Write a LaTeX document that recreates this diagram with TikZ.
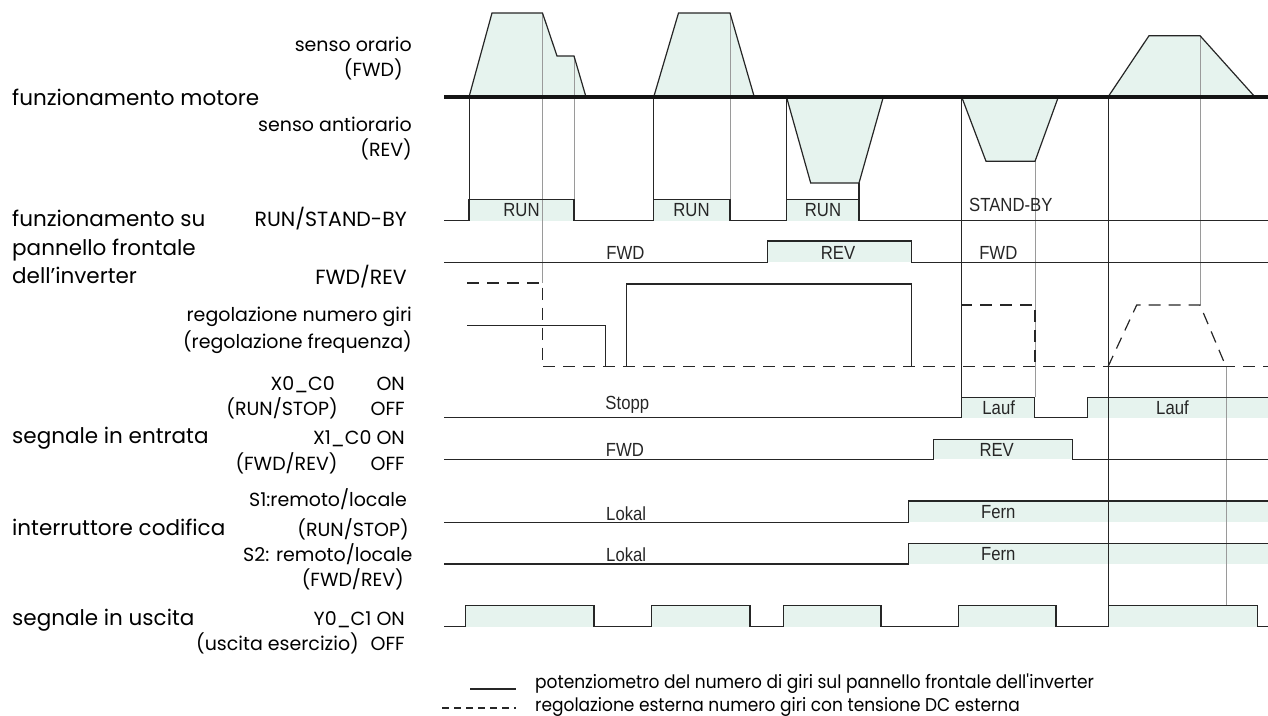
\documentclass[tikz,border=0pt]{standalone}
\usepackage{fontspec}
\setmainfont{Poppins}
\newfontfamily\sigfont[FakeStretch=0.88]{Liberation Sans}
\newfontfamily\legfont[FakeStretch=0.92]{Poppins}
\definecolor{linec}{HTML}{262626}
\definecolor{grayc}{HTML}{9A9A9A}
\definecolor{fillc}{HTML}{E6F3EE}
\tikzset{
  big/.style={font=\fontsize{21.5}{25}\selectfont, inner sep=0pt},
  mid/.style={font=\fontsize{20.5}{24}\selectfont, inner sep=0pt},
  small/.style={font=\fontsize{19}{22}\selectfont, inner sep=0pt},
  sig/.style={font=\sigfont\fontsize{19}{22}\selectfont, inner sep=0pt, text=linec},
  leg/.style={font=\legfont\fontsize{18.5}{21}\selectfont, inner sep=0pt},
  wave/.style={line width=1.2pt, draw=linec, line join=miter},
  guide/.style={line width=0.8pt, draw=linec},
  gguide/.style={line width=1.0pt, draw=grayc},
  dashline/.style={line width=1.2pt, draw=linec, dash pattern=on 12pt off 8pt},
  pulsefill/.style={fill=fillc},
}
\begin{document}
\begin{tikzpicture}[x=1pt,y=-1pt]
\useasboundingbox (0,0) rectangle (1268,715);

% ---------- fills ----------
\fill[pulsefill] (469,97) -- (492,13) -- (542.5,13) -- (557,56) -- (574,56) -- (586,97) -- cycle;
\fill[pulsefill] (653.7,97) -- (678.5,13) -- (730,13) -- (754.3,97) -- cycle;
\fill[pulsefill] (786.5,97) -- (810.7,183) -- (859,183) -- (883.3,97) -- cycle;
\fill[pulsefill] (961.7,97) -- (986,161.3) -- (1035,161.3) -- (1058.3,97) -- cycle;
\fill[pulsefill] (1108,97) -- (1149,35.7) -- (1200,35.7) -- (1255,97) -- cycle;
\fill[pulsefill] (469,199.3) rectangle (574,220.7);
\fill[pulsefill] (653.7,199.3) rectangle (730,220.7);
\fill[pulsefill] (786.5,199.3) rectangle (859,220.7);
\fill[pulsefill] (767.7,241) rectangle (911.7,262.3);
\fill[pulsefill] (961.7,397.3) rectangle (1034.3,417.7);
\fill[pulsefill] (1087.3,397.3) rectangle (1268,417.7);
\fill[pulsefill] (933.3,439.3) rectangle (1072.7,459.3);
\fill[pulsefill] (908.3,501) rectangle (1268,522.3);
\fill[pulsefill] (908.3,543.3) rectangle (1268,564);
\fill[pulsefill] (465.7,605.7) rectangle (594,626.7);
\fill[pulsefill] (651.7,605.7) rectangle (750,626.7);
\fill[pulsefill] (783.3,605.7) rectangle (881,626.7);
\fill[pulsefill] (958.3,605.7) rectangle (1056,626.7);
\fill[pulsefill] (1108.3,605.7) rectangle (1257.3,626.7);

% ---------- guide lines ----------
\draw[guide] (469,97) -- (469,199.3);
\draw[guide] (653.7,97) -- (653.7,199.3);
\draw[guide] (786.5,97) -- (786.5,199.3);
\draw[guide] (961.7,97) -- (961.7,397.3);
\draw[guide] (1108,97) -- (1108,605.7);
\draw[gguide] (542.5,13) -- (542.5,283);
\draw[gguide] (574,56) -- (574,199.3);
\draw[gguide] (730,13) -- (730,199.3);
\draw[gguide] (1035,161.3) -- (1035,397.3);
\draw[gguide] (1200,35.7) -- (1200,305);
\draw[gguide] (1226,366.7) -- (1226,605.7);

% ---------- motor outlines ----------
\draw[wave] (469,97) -- (492,13) -- (542.5,13) -- (557,56) -- (574,56) -- (586,97);
\draw[wave] (653.7,97) -- (678.5,13) -- (730,13) -- (754.3,97);
\draw[wave] (786.5,97) -- (810.7,183) -- (859,183) -- (883.3,97);
\draw[wave] (961.7,97) -- (986,161.3) -- (1035,161.3) -- (1058.3,97);
\draw[wave] (1108,97) -- (1149,35.7) -- (1200,35.7) -- (1255,97);
\draw[line width=4pt, draw=black!92] (444,97) -- (1268,97);

% ---------- signal waves ----------
\draw[wave] (444,220.7) -- (469,220.7) -- (469,199.3) -- (574,199.3) -- (574,220.7)
  -- (653.7,220.7) -- (653.7,199.3) -- (730,199.3) -- (730,220.7)
  -- (786.5,220.7) -- (786.5,199.3) -- (859,199.3) -- (859,220.7) -- (1268,220.7);
\draw[wave] (859,199.3) -- (859,183);
\draw[wave] (444,262.3) -- (767.7,262.3) -- (767.7,241) -- (911.7,241) -- (911.7,262.3) -- (1268,262.3);
\draw[wave] (467,325.7) -- (605.7,325.7) -- (605.7,366.7);
\draw[wave] (626.7,366.7) -- (626.7,284) -- (911.7,284) -- (911.7,366.7);
\draw[wave] (1108,366.7) -- (1226,366.7);
\draw[dashline] (467,283) -- (542.5,283) -- (542.5,366.7) -- (1268,366.7);
\draw[dashline] (961.7,366.7) -- (961.7,305) -- (1035,305) -- (1035,366.7);
\draw[dashline] (1108,366.7) -- (1136.7,305) -- (1200,305) -- (1226,366.7);
\draw[wave] (444,417.7) -- (961.7,417.7) -- (961.7,397.3) -- (1034.3,397.3) -- (1034.3,417.7)
  -- (1087.3,417.7) -- (1087.3,397.3) -- (1268,397.3);
\draw[wave] (444,459.3) -- (933.3,459.3) -- (933.3,439.3) -- (1072.7,439.3) -- (1072.7,459.3) -- (1268,459.3);
\draw[wave] (444,522.3) -- (908.3,522.3) -- (908.3,501) -- (1268,501);
\draw[wave] (444,564) -- (908.3,564) -- (908.3,543.3) -- (1268,543.3);
\draw[wave] (444,626.7) -- (465.7,626.7) -- (465.7,605.7) -- (594,605.7) -- (594,626.7)
  -- (651.7,626.7) -- (651.7,605.7) -- (750,605.7) -- (750,626.7)
  -- (783.3,626.7) -- (783.3,605.7) -- (881,605.7) -- (881,626.7)
  -- (958.3,626.7) -- (958.3,605.7) -- (1056,605.7) -- (1056,626.7)
  -- (1108.3,626.7) -- (1108.3,605.7) -- (1257.3,605.7) -- (1257.3,626.7) -- (1268,626.7);

% ---------- signal labels ----------
\node[sig, anchor=base] (srun1) at (521.5,216.7) {RUN};
\node[sig, anchor=base] (srun2) at (691.5,216.7) {RUN};
\node[sig, anchor=base] (srun3) at (823,216.7) {RUN};
\node[sig, anchor=base] (sstby) at (1010.8,211) {STAND-BY};
\node[sig, anchor=base] (sfwd1) at (625.5,259) {FWD};
\node[sig, anchor=base] (srev1) at (838,259) {REV};
\node[sig, anchor=base] (sfwd2) at (998.3,259) {FWD};
\node[sig, anchor=base] (sstopp) at (627.3,409.3) {Stopp};
\node[sig, anchor=base] (slauf1) at (998.7,414.3) {Lauf};
\node[sig, anchor=base] (slauf2) at (1172.5,414.3) {Lauf};
\node[sig, anchor=base] (sfwd3) at (625,456.7) {FWD};
\node[sig, anchor=base] (srev2) at (996.7,456.7) {REV};
\node[sig, anchor=base] (slok1) at (626.2,520) {Lokal};
\node[sig, anchor=base] (sfern1) at (998.3,518.3) {Fern};
\node[sig, anchor=base] (slok2) at (626.2,561.7) {Lokal};
\node[sig, anchor=base] (sfern2) at (998.3,560.7) {Fern};

% ---------- left labels ----------
\node[small, anchor=base east] (lorario) at (412,51.7) {senso orario};
\node[small, anchor=base east] (lfwdp) at (403,76) {(FWD)};
\node[big, anchor=base west] (lmotor) at (12,105) {funzionamento motore};
\node[small, anchor=base east] (lanti) at (412,131.7) {senso antiorario};
\node[small, anchor=base east] (lrevp) at (412,156.7) {(REV)};
\node[big, anchor=base west] (lpan1) at (12,226.7) {funzionamento su};
\node[big, anchor=base west] (lpan2) at (12,255) {pannello frontale};
\node[big, anchor=base west] (lpan3) at (12,283.3) {dell’inverter};
\node[mid, anchor=base east] (lrunsb) at (407,226.7) {RUN/STAND-BY};
\node[mid, anchor=base east] (lfwdrev) at (407,284) {FWD/REV};
\node[small, anchor=base east] (lreg1) at (412,321.7) {regolazione numero giri};
\node[small, anchor=base east] (lreg2) at (412,348.3) {(regolazione frequenza)};
\node[small, anchor=base east] (lx0) at (335,390) {X0\_C0};
\node[small, anchor=base east] (lx0on) at (405,390) {ON};
\node[small, anchor=base east] (lx0p) at (338,415) {(RUN/STOP)};
\node[small, anchor=base east] (lx0off) at (405,415) {OFF};
\node[big, anchor=base west] (lin) at (12,443.3) {segnale in entrata};
\node[small, anchor=base east] (lx1) at (405,444) {X1\_C0 ON};
\node[small, anchor=base east] (lx1p) at (337.7,470) {(FWD/REV)};
\node[small, anchor=base east] (lx1off) at (405,470) {OFF};
\node[small, anchor=base east] (ls1) at (407,506.7) {S1:remoto/locale};
\node[big, anchor=base west] (lcod) at (12,535) {interruttore codifica};
\node[small, anchor=base east] (ls1p) at (409,536.7) {(RUN/STOP)};
\node[small, anchor=base east] (ls2) at (412.7,561.7) {S2: remoto/locale};
\node[small, anchor=base east] (ls2p) at (404,586.7) {(FWD/REV)};
\node[big, anchor=base west] (lout) at (12,625) {segnale in uscita};
\node[small, anchor=base east] (ly0) at (405,625) {Y0\_C1 ON};
\node[small, anchor=base east] (ly0p) at (359,650) {(uscita esercizio)};
\node[small, anchor=base east] (ly0off) at (405,650) {OFF};

% ---------- legend ----------
\coordinate (ls0) at (470,689);
\coordinate (ls1e) at (516,689);
\coordinate (ld0) at (442,708);
\coordinate (ld1e) at (516,708);
\draw[line width=1.2pt, draw=linec] (ls0) -- (ls1e);
\draw[line width=1.2pt, draw=linec, dash pattern=on 7pt off 5pt] (ld0) -- (ld1e);
\node[leg, anchor=base west] (leg1) at (535,688) {potenziometro del numero di giri sul pannello frontale dell\textquotesingle inverter};
\node[leg, anchor=base west] (leg2) at (535,711) {regolazione esterna numero giri con tensione DC esterna};
\end{tikzpicture}
\end{document}
